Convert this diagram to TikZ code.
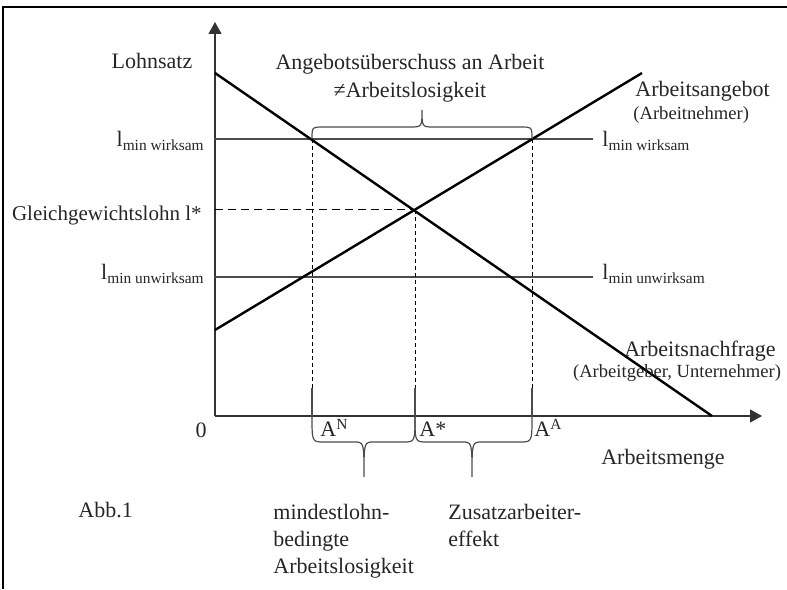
\documentclass[tikz,border=0pt]{standalone}
\usepackage{fontspec}
\setmainfont{Liberation Serif}
\usetikzlibrary{arrows.meta}
\begin{document}
\begin{tikzpicture}[x=0.5pt,y=0.5pt,font=\fontsize{11}{13.5}\selectfont,
  every node/.style={inner sep=0pt,text=black!85},
  achse/.style={line width=0.6pt,gray!40!black,-{Triangle[length=6pt,width=6.5pt]}},
  kurve/.style={line width=1.2pt,black},
  lohn/.style={line width=0.6pt,gray!60!black},
  hilfs/.style={line width=0.5pt,dash pattern=on 2pt off 1.5pt},
  klammer/.style={line width=0.6pt,gray!60!black},
  klein/.style={font=\fontsize{9.3}{11}\selectfont}]

\useasboundingbox (0,0) rectangle (787,589);
\draw[line width=0.8pt] (3,0) -- (3,582) -- (787,582);

\draw[achse] (215,173) -- (215,567);
\draw[achse] (215,173) -- (762,173);

\draw[lohn] (215,450) -- (593,450);
\draw[lohn] (215,312) -- (593,312);

\draw[hilfs,dash pattern=on 4pt off 2.5pt] (215,379) -- (415,379);
\foreach \x/\y in {312/450,415/379,532/450}{
\draw[hilfs] (\x,\y) -- (\x,201);
\draw[klammer] (\x,201) -- (\x,173);
}

\draw[kurve] (215,516) -- (712,173);
\draw[kurve] (215,259) -- (642,516);

\draw[klammer] (312,450) .. controls (312,462) .. (324,462) -- (410,462)
  .. controls (422,462) .. (422,479) .. controls (422,462) .. (434,462)
  -- (520,462) .. controls (532,462) .. (532,450);

\foreach \a/\m/\b in {312/364/415,415/472/532}
\draw[klammer] (\a,173) .. controls (\a,147) .. (\a+12,147) -- (\m-10,147)
  .. controls (\m,147) .. (\m,112) .. controls (\m,147) .. (\m+10,147)
  -- (\b-12,147) .. controls (\b,147) .. (\b,173);

\node[anchor=base] (lohnsatz) at (152,520) {Lohnsatz};
\node[anchor=north,align=center,font=\fontsize{11}{14}\selectfont] (ueberschuss) at (410,535)
  {Angebotsüberschuss an Arbeit\\≠Arbeitslosigkeit};
\node[anchor=base west] (angebot) at (635,492) {Arbeitsangebot};
\node[anchor=base west,klein] (nehmer) at (633,469) {(Arbeitnehmer)};

\node[anchor=base east] (wlinks) at (205,442) {l\textsubscript{min wirksam}};
\node[anchor=base west] (wrechts) at (602,442) {l\textsubscript{min wirksam}};
\node[anchor=base east] (ulinks) at (205,309) {l\textsubscript{min unwirksam}};
\node[anchor=base west] (urechts) at (602,309) {l\textsubscript{min unwirksam}};
\node[anchor=base east,font=\fontsize{10.5}{12}\selectfont] (gleich) at (202,368) {Gleichgewichtslohn l*};

\node[anchor=base] (nachfrage) at (700,232) {Arbeitsnachfrage};
\node[anchor=base,klein] (geber) at (677,211) {(Arbeitgeber, Unternehmer)};

\node[anchor=base] (null) at (201,151) {0};
\node[anchor=base west] (an) at (320,152) {A\textsuperscript{N}};
\node[anchor=base west] (astern) at (419,152) {A*};
\node[anchor=base west] (aa) at (534,152) {A\textsuperscript{A}};
\node[anchor=base] (menge) at (663,124) {Arbeitsmenge};

\node[anchor=base west] (abb) at (78,71) {Abb.1};
\node[anchor=north west,align=left] (mindest) at (273,85) {mindestlohn-\\bedingte\\Arbeitslosigkeit};
\node[anchor=north west,align=left] (zusatz) at (448,85) {Zusatzarbeiter-\\effekt};
\end{tikzpicture}
\end{document}
